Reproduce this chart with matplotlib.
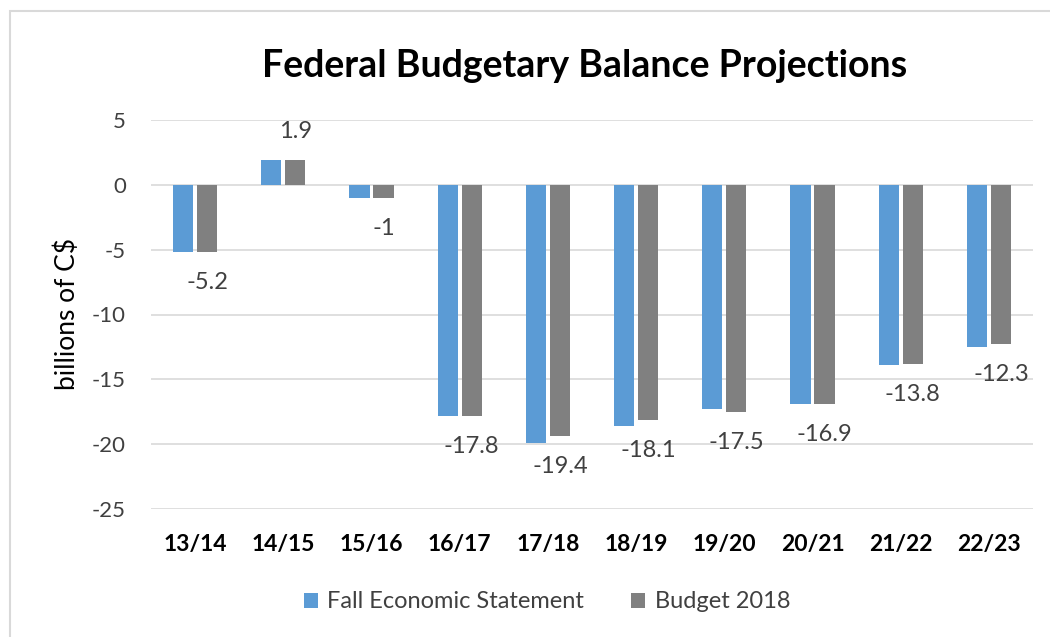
import matplotlib

matplotlib.use("Agg")
from matplotlib import pyplot as plt
from matplotlib.patches import Rectangle
import numpy as np

# values (billions of C$)
years = ["13/14", "14/15", "15/16", "16/17", "17/18", "18/19", "19/20", "20/21", "21/22", "22/23"]
fall_statement = [-5.2, 1.9, -1.0, -17.8, -19.9, -18.6, -17.3, -16.9, -13.9, -12.5]
budget_2018 = [-5.2, 1.9, -1.0, -17.8, -19.4, -18.1, -17.5, -16.9, -13.8, -12.3]
y_ticks = [5, 0, -5, -10, -15, -20, -25]

blue = "#5B9BD5"
grey = "#808080"
text_color = "#404040"
font = ["Lato", "DejaVu Sans"]

plt.rcParams["font.family"] = font

fig = plt.figure(figsize=(10.5, 6.37), dpi=100)
fig.patch.set_facecolor("white")
# chart border (only top and left edges fall inside the image)
top_edge = 1 - 11 / 637
fig.patches.append(
    Rectangle((10 / 1050, -0.1), 1.2, top_edge + 0.1,
              transform=fig.transFigure, fill=False, edgecolor="#D9D9D9", linewidth=1.5)
)

ax = fig.add_axes([151 / 1050, 1 - 509 / 637, (1033 - 151) / 1050, (509 - 120) / 637])
x = np.arange(len(years))
bar_w = 0.227
offset = 0.136
ax.bar(x - offset, fall_statement, width=bar_w, color=blue, label="Fall Economic Statement", zorder=2)
bars = ax.bar(x + offset, budget_2018, width=bar_w, color=grey, label="Budget 2018", zorder=2)

# only the Budget 2018 series carries data labels
for rect, val in zip(bars, budget_2018):
    cx = rect.get_x() + rect.get_width() / 2
    dy = 21 if val > 0 else -22
    ax.annotate(f"{val:g}", xy=(cx, val), xytext=(0, dy), textcoords="offset points",
                ha="center", va="center", fontsize=17, color=text_color)

ax.set_xlim(-0.5, len(years) - 0.5)
ax.set_ylim(-25, 5)
ax.set_yticks(y_ticks)
ax.set_yticklabels([str(t) for t in y_ticks], fontsize=16, color=text_color)
ax.set_xticks(x)
ax.set_xticklabels(years, fontsize=16.5, fontweight="bold", color="black")
ax.tick_params(axis="both", length=0)
ax.tick_params(axis="y", pad=18)
ax.tick_params(axis="x", pad=18)
ax.grid(axis="y", color="#D9D9D9", linewidth=1.2, zorder=0)
ax.set_axisbelow(True)
for spine in ax.spines.values():
    spine.set_visible(False)

ax.set_ylabel("billions of C$", fontsize=19, color="black", labelpad=9)
fig.text(585 / 1050, 1 - 66 / 637, "Federal Budgetary Balance Projections",
         ha="center", va="center", fontsize=27, fontweight="bold", color="black")

fig.legend(loc="center", bbox_to_anchor=(547 / 1050, 1 - 602 / 637), ncol=2, frameon=False,
           fontsize=17, handlelength=0.6, handleheight=0.6, handletextpad=0.4, columnspacing=2.0,
           labelcolor=text_color)

fig.savefig("out.png", dpi=100)
